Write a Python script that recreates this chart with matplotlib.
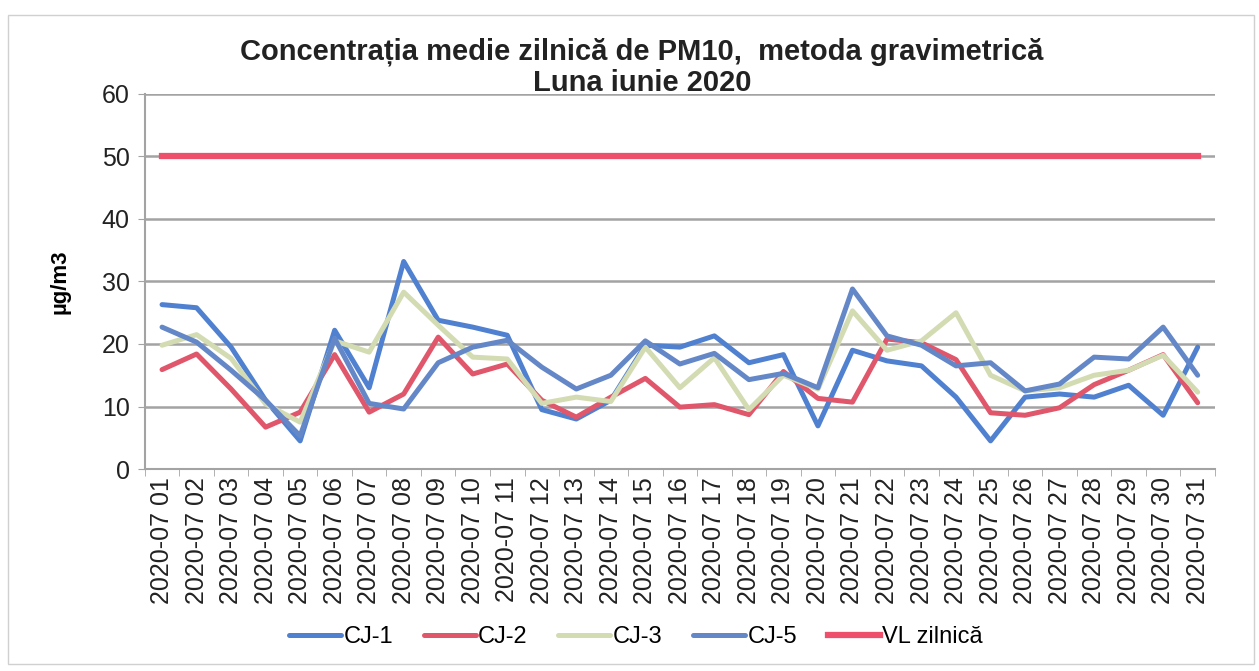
import matplotlib
matplotlib.use("Agg")
import matplotlib.pyplot as plt
import numpy as np

plt.rcParams['font.family'] = ['Liberation Sans', 'DejaVu Sans']

# daily dates (category labels)
days = ['2020-07 %02d' % d for d in range(1, 32)]

# PM10 daily means, ug/m3
cj1 = [26.3, 25.8, 19.5, 11.0, 4.5, 22.2, 13.0, 33.2, 23.8, 22.7, 21.4,
       9.5, 8.0, 11.0, 19.8, 19.5, 21.3, 17.0, 18.3, 6.9, 19.0, 17.3,
       16.5, 11.5, 4.5, 11.5, 12.0, 11.5, 13.4, 8.6, 19.5]
cj2 = [15.9, 18.4, 12.8, 6.7, 9.1, 18.3, 9.1, 12.0, 21.1, 15.2, 16.8,
       11.0, 8.3, 11.5, 14.5, 9.9, 10.3, 8.7, 15.6, 11.3, 10.7, 20.8,
       20.2, 17.5, 9.0, 8.6, 9.8, 13.5, 15.8, 18.3, 10.6]
cj3 = [19.8, 21.5, 17.7, 10.4, 7.5, 20.5, 18.7, 28.3, 23.0, 17.9, 17.6,
       10.5, 11.5, 10.8, 19.5, 13.0, 17.8, 9.5, 15.0, 12.8, 25.3, 19.0,
       20.5, 25.0, 15.0, 12.5, 13.0, 15.0, 15.8, 18.2, 12.3]
cj5 = [22.7, 20.3, 15.8, 11.0, 5.3, 20.9, 10.5, 9.6, 17.0, 19.5, 20.6,
       16.3, 12.8, 15.0, 20.5, 16.8, 18.5, 14.3, 15.3, 13.0, 28.8, 21.3,
       19.8, 16.5, 17.0, 12.5, 13.6, 17.9, 17.6, 22.7, 15.0]
vl = [50] * 31

x = np.arange(len(days))

fig = plt.figure(figsize=(12.59, 6.71), dpi=100)
ax = fig.add_axes([0.115, 0.301, 0.85, 0.559])

ax.plot(x, cj1, color='#4f81d0', lw=3.6, label='CJ-1', solid_capstyle='round')
ax.plot(x, cj2, color='#e0566a', lw=3.6, label='CJ-2', solid_capstyle='round')
ax.plot(x, cj3, color='#d3dbb3', lw=3.6, label='CJ-3', solid_capstyle='round')
ax.plot(x, cj5, color='#6487c8', lw=3.6, label='CJ-5', solid_capstyle='round')
ax.plot(x, vl, color='#ee4f6a', lw=4.5, label='VL zilnică')

ax.set_xlim(-0.5, len(days) - 0.5)
ax.set_ylim(0, 60)
ax.set_yticks(range(0, 61, 10))
ax.yaxis.grid(True, color='#a3a3a3', lw=1.8)
ax.set_axisbelow(True)

ax.set_xticks(x)
ax.set_xticklabels(days, rotation=90, fontsize=18, color='#222222')
ax.set_xticks(np.arange(-0.5, len(days), 1), minor=True)
ax.tick_params(axis='x', which='major', length=0, pad=6)
ax.tick_params(axis='x', which='minor', length=5, color='#a3a3a3')
ax.tick_params(axis='y', labelsize=18, length=5, color='#a3a3a3', pad=6,
               labelcolor='#222222')

for s in ['top', 'right']:
    ax.spines[s].set_visible(False)
for s in ['left', 'bottom']:
    ax.spines[s].set_color('#a3a3a3')
    ax.spines[s].set_linewidth(1.5)

ax.set_ylabel('µg/m3', fontsize=16, fontweight='bold', labelpad=22)
fig.text(0.51, 0.9, 'Concentrația medie zilnică de PM10,  metoda gravimetrică\nLuna iunie 2020',
         ha='center', va='center', fontsize=21, fontweight='bold', color='#222222',
         linespacing=1.15)

fig.legend(loc='center', bbox_to_anchor=(0.505, 0.05), ncol=5, frameon=False,
           fontsize=17, handlelength=2.2, handletextpad=0.1, columnspacing=1.3)

# light border of the pasted chart
fig.patches.append(plt.Rectangle((0.006, 0.01), 0.99, 0.968, transform=fig.transFigure,
                                 fill=False, ec='#d0d0d0', lw=1))

fig.savefig('out.png', dpi=100)
